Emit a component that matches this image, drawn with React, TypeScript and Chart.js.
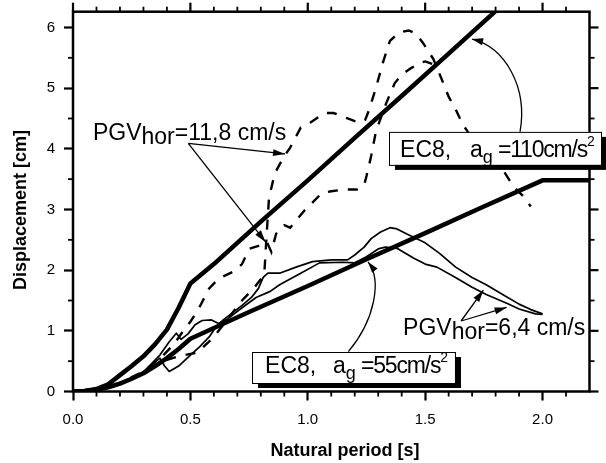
import { useEffect, useRef } from 'react';
import { Chart, registerables } from 'chart.js';

Chart.register(...registerables);

const FONT = "'Liberation Sans', Arial, Helvetica, sans-serif";

// EC8 elastic displacement spectra [T in s, Sd in cm]
const ec8HighPeriod = [0, 0.05, 0.1, 0.15, 0.2, 0.25, 0.3, 0.35, 0.4, 0.45, 0.5, 0.6, 0.8, 1.0, 1.2, 1.4, 1.6, 1.8, 1.9];
const ec8HighDisp = [0, 0.01, 0.04, 0.12, 0.27, 0.42, 0.58, 0.78, 1.02, 1.38, 1.78, 2.1, 2.8, 3.48, 4.18, 4.87, 5.57, 6.27, 6.61];
const ec8LowPeriod = [0, 0.05, 0.1, 0.15, 0.2, 0.25, 0.3, 0.35, 0.4, 0.45, 0.5, 0.75, 1.0, 1.25, 1.5, 1.75, 2.0, 2.2];
const ec8LowDisp = [0, 0.01, 0.03, 0.07, 0.13, 0.21, 0.3, 0.42, 0.55, 0.7, 0.87, 1.31, 1.74, 2.18, 2.61, 3.05, 3.48, 3.48];

// Record spectra, PGV_hor = 11,8 cm/s (two horizontal components, dashed)
const pgv118aPeriod = [0, 0.1, 0.2, 0.3, 0.38, 0.43, 0.47, 0.5, 0.535, 0.58, 0.62, 0.68, 0.72, 0.75, 0.79, 0.825, 0.845, 0.865, 0.9, 0.925, 0.985, 1.06, 1.1, 1.16, 1.21, 1.24, 1.25, 1.27, 1.29, 1.31, 1.335, 1.37, 1.4, 1.44, 1.48, 1.5, 1.53];
const pgv118aDisp = [0, 0.03, 0.14, 0.33, 0.58, 0.78, 1.0, 1.15, 1.36, 1.7, 1.86, 1.97, 2.1, 2.35, 2.4, 2.47, 2.3, 2.6, 2.74, 2.7, 2.98, 3.27, 3.3, 3.33, 3.33, 3.4, 3.55, 3.88, 4.28, 4.5, 4.76, 5.08, 5.22, 5.33, 5.42, 5.44, 5.4];
const pgv118bPeriod = [0, 0.1, 0.2, 0.3, 0.4, 0.45, 0.5, 0.53, 0.6, 0.67, 0.72, 0.77, 0.8, 0.815, 0.825, 0.835, 0.86, 0.9, 0.925, 0.97, 1.01, 1.07, 1.11, 1.17, 1.22, 1.245, 1.262, 1.29, 1.32, 1.35, 1.39, 1.43, 1.46, 1.49, 1.535, 1.57, 1.6, 1.63, 1.66, 1.68, 1.75, 1.83, 1.876, 1.92, 1.95];
const pgv118bDisp = [0, 0.02, 0.12, 0.3, 0.52, 0.58, 0.62, 0.64, 0.9, 1.25, 1.5, 1.7, 1.85, 1.95, 2.6, 3.2, 3.6, 3.88, 4.02, 4.35, 4.43, 4.59, 4.59, 4.5, 4.43, 4.48, 4.65, 5.0, 5.42, 5.78, 5.92, 5.95, 5.9, 5.75, 5.48, 5.15, 4.86, 4.65, 4.4, 4.29, 3.98, 3.66, 3.38, 3.21, 3.05];

// Record spectra, PGV_hor = 6,4 cm/s (two horizontal components, thin solid)
const pgv64aPeriod = [0, 0.1, 0.2, 0.28, 0.34, 0.37, 0.39, 0.41, 0.45, 0.5, 0.54, 0.58, 0.61, 0.64, 0.68, 0.72, 0.76, 0.79, 0.81, 0.83, 0.88, 0.95, 1.02, 1.1, 1.17, 1.2, 1.24, 1.27, 1.31, 1.35, 1.38, 1.42, 1.5, 1.56, 1.63, 1.7, 1.76, 1.83, 1.9, 1.95, 2.0];
const pgv64aDisp = [0, 0.02, 0.12, 0.27, 0.45, 0.55, 0.42, 0.33, 0.42, 0.6, 0.74, 0.9, 1.07, 1.18, 1.3, 1.42, 1.55, 1.7, 1.88, 1.95, 1.95, 2.05, 2.14, 2.17, 2.17, 2.25, 2.38, 2.52, 2.63, 2.7, 2.68, 2.6, 2.45, 2.28, 2.05, 1.88, 1.76, 1.6, 1.44, 1.35, 1.28];
const pgv64bPeriod = [0, 0.1, 0.2, 0.3, 0.37, 0.41, 0.44, 0.46, 0.49, 0.52, 0.55, 0.59, 0.62, 0.66, 0.72, 0.78, 0.84, 0.88, 0.97, 1.05, 1.15, 1.2, 1.25, 1.3, 1.33, 1.38, 1.45, 1.5, 1.55, 1.62, 1.7, 1.76, 1.85, 1.9, 1.97, 2.0];
const pgv64bDisp = [0, 0.02, 0.13, 0.32, 0.6, 0.82, 0.96, 0.86, 0.95, 1.1, 1.17, 1.18, 1.12, 1.2, 1.38, 1.55, 1.65, 1.76, 1.95, 2.12, 2.13, 2.12, 2.22, 2.35, 2.38, 2.36, 2.2, 2.1, 2.05, 1.9, 1.72, 1.6, 1.45, 1.36, 1.28, 1.27];

// Axis ticks
const xMajorTicks = [0, 0.5, 1.0, 1.5, 2.0];
const xTickLabels = ['0.0', '0.5', '1.0', '1.5', '2.0'];
const yMajorTicks = [0, 1, 2, 3, 4, 5, 6];
const yTickLabels = ['0', '1', '2', '3', '4', '5', '6'];
const X_MAX = 2.2;
const Y_MAX = 6.26;
const X_MINOR_STEP = 0.1;
const Y_MINOR_STEP = 0.5;
const MAJOR_TICK = 9;
const MINOR_TICK = 5;

const LABEL_SIZE = 23;

const toPoints = (xs: number[], ys: number[]) => xs.map((x, i) => ({ x, y: ys[i] }));

type Part = { t: string; dy?: number; size?: number; ls?: number };

function drawParts(ctx: CanvasRenderingContext2D, parts: Part[], x: number, y: number) {
  let cx = x;
  for (const p of parts) {
    ctx.font = `${p.size ?? LABEL_SIZE}px ${FONT}`;
    (ctx as any).letterSpacing = `${p.ls ?? 0}px`;
    ctx.fillText(p.t, cx, y + (p.dy ?? 0));
    cx += ctx.measureText(p.t).width;
  }
  (ctx as any).letterSpacing = '0px';
}

function arrowHead(ctx: CanvasRenderingContext2D, fx: number, fy: number, tx: number, ty: number, len = 12, half = 3.5) {
  const a = Math.atan2(ty - fy, tx - fx);
  const c = Math.cos(a), s = Math.sin(a);
  ctx.beginPath();
  ctx.moveTo(tx, ty);
  ctx.lineTo(tx - len * c + half * s, ty - len * s - half * c);
  ctx.lineTo(tx - len * c - half * s, ty - len * s + half * c);
  ctx.closePath();
  ctx.fill();
}

const overlay = {
  id: 'overlay',
  afterDatasetsDraw(chart: any) {
    const { ctx, chartArea: a, scales } = chart;
    const xs = scales.x, ys = scales.y;
    const px = (v: number) => xs.getPixelForValue(v);
    const py = (v: number) => ys.getPixelForValue(v);
    ctx.save();
    ctx.globalAlpha = 1;
    ctx.fillStyle = '#000000';
    ctx.strokeStyle = '#000000';
    ctx.setLineDash([]);

    // frame
    ctx.lineWidth = 2.5;
    ctx.strokeRect(a.left, a.top, a.right - a.left, a.bottom - a.top);

    // outward tick marks: minor ones on all sides, majors on top and right
    const nx = Math.round(X_MAX / X_MINOR_STEP);
    for (let k = 0; k < nx; k++) {
      const major = k % 5 === 0;
      const len = major ? MAJOR_TICK : MINOR_TICK;
      const w = major ? 2.2 : 1.8;
      const p = px(k * X_MINOR_STEP);
      if (!major) ctx.fillRect(p - w / 2, a.bottom, w, len);
      ctx.fillRect(p - w / 2, a.top - len, w, len);
    }
    const ny = Math.round(6 / Y_MINOR_STEP);
    for (let k = 0; k <= ny; k++) {
      const major = k % 2 === 0;
      const len = major ? MAJOR_TICK : MINOR_TICK;
      const w = major ? 2.2 : 1.8;
      const p = py(k * Y_MINOR_STEP);
      if (!major) ctx.fillRect(a.left - len, p - w / 2, len, w);
      ctx.fillRect(a.right, p - w / 2, len, w);
    }

    // axis titles
    ctx.font = `bold 18px ${FONT}`;
    ctx.textAlign = 'center';
    ctx.textBaseline = 'alphabetic';
    ctx.fillText('Natural period [s]', 345, 456);
    ctx.save();
    ctx.translate(26, 210);
    ctx.rotate(-Math.PI / 2);
    ctx.fillText('Displacement [cm]', 0, 0);
    ctx.restore();
    ctx.textAlign = 'left';

    // PGV 11,8 label and its arrows
    ctx.lineWidth = 1.3;
    const aO = [px(0.491), py(4.09)];
    const a1 = [px(0.903), py(3.916)];
    const a2 = [px(0.82), py(2.465)];
    ctx.beginPath();
    ctx.moveTo(aO[0], aO[1]); ctx.lineTo(a1[0], a1[1]);
    ctx.moveTo(aO[0], aO[1]); ctx.lineTo(a2[0], a2[1]);
    ctx.stroke();
    arrowHead(ctx, aO[0], aO[1], a1[0], a1[1]);
    arrowHead(ctx, aO[0], aO[1], a2[0], a2[1]);
    drawParts(ctx, [{ t: 'PGV' }, { t: 'hor', dy: 4 }, { t: '=11,8 cm/s' }], px(0.085), py(4.147));

    // PGV 6,4 label and its arrows
    const bO = [px(1.653), py(1.162)];
    const b1 = [px(1.748), py(1.67)];
    const b2 = [px(1.847), py(1.385)];
    ctx.beginPath();
    ctx.moveTo(bO[0], bO[1]); ctx.lineTo(b1[0], b1[1]);
    ctx.moveTo(bO[0], bO[1]); ctx.lineTo(b2[0], b2[1]);
    ctx.stroke();
    arrowHead(ctx, bO[0], bO[1], b1[0], b1[1]);
    arrowHead(ctx, bO[0], bO[1], b2[0], b2[1]);
    drawParts(ctx, [{ t: 'PGV' }, { t: 'hor', dy: 4 }, { t: '=6,4 cm/s' }], px(1.406), py(0.932));

    // curved arrows from the EC8 boxes to their spectra
    const curve = (p: number[][]) => {
      const q = p.map(([u, v]) => [px(u), py(v)]);
      ctx.beginPath();
      ctx.moveTo(q[0][0], q[0][1]);
      ctx.bezierCurveTo(q[1][0], q[1][1], q[2][0], q[2][1], q[3][0], q[3][1]);
      ctx.stroke();
      arrowHead(ctx, q[2][0], q[2][1], q[3][0], q[3][1], 11, 3.5);
    };
    ctx.lineWidth = 1.3;
    curve([[1.904, 4.279], [1.938, 5.017], [1.84, 5.676], [1.7, 5.808]]);
    curve([[1.173, 0.656], [1.2865, 1.179], [1.3163, 1.838], [1.257, 2.135]]);

    // EC8 boxes with drop shadow
    const box = (x0: number, x1: number, y0: number, y1: number) => {
      const l = px(x0), r = px(x1), t = py(y0), b = py(y1);
      ctx.fillStyle = '#000';
      ctx.fillRect(l + 6, t + 5, r - l, b - t);
      ctx.fillStyle = '#fff';
      ctx.fillRect(l, t, r - l, b - t);
      ctx.lineWidth = 1;
      ctx.strokeRect(l + 0.5, t + 0.5, r - l, b - t);
      ctx.fillStyle = '#000';
    };
    box(1.346, 2.249, 4.279, 3.735);
    drawParts(ctx, [{ t: 'EC8,' }], px(1.393), py(3.867));
    drawParts(ctx, [{ t: 'a' }, { t: 'g', dy: 6, size: 18 }, { t: ' =110cm/s', ls: -1.2 }, { t: '2', dy: -11, size: 14 }], px(1.691), py(3.867));

    box(0.7625, 1.627, 0.651, 0.14);
    drawParts(ctx, [{ t: 'EC8,' }], px(0.818), py(0.3));
    drawParts(ctx, [{ t: 'a' }, { t: 'g', dy: 6, size: 18 }, { t: ' =55cm/s', ls: -1.2 }, { t: '2', dy: -11, size: 14 }], px(1.1076), py(0.3));

    ctx.restore();
  },
};

// major ticks on the bottom and left axes come from the scales themselves
const axisGrid = {
  display: true,
  drawOnChartArea: false,
  drawTicks: true,
  tickLength: MAJOR_TICK,
  tickWidth: 2.2,
  tickColor: '#000',
  color: '#000',
};

export default function App() {
  const ref = useRef<HTMLCanvasElement>(null);

  useEffect(() => {
    const canvas = ref.current;
    if (!canvas) return;
    const thick = { borderColor: '#000', borderWidth: 4.5, pointRadius: 0, fill: false, borderJoinStyle: 'round' as const };
    const thin = { borderColor: '#000', borderWidth: 1.7, pointRadius: 0, fill: false, borderJoinStyle: 'round' as const };
    const dashed = { borderColor: '#000', borderWidth: 2.4, pointRadius: 0, fill: false, borderDash: [10, 10] };

    const chart = new Chart(canvas, {
      type: 'line',
      data: {
        datasets: [
          { label: 'PGV 6,4 a', data: toPoints(pgv64aPeriod, pgv64aDisp), ...thin },
          { label: 'PGV 6,4 b', data: toPoints(pgv64bPeriod, pgv64bDisp), ...thin },
          { label: 'PGV 11,8 a', data: toPoints(pgv118aPeriod, pgv118aDisp), ...dashed },
          { label: 'PGV 11,8 b', data: toPoints(pgv118bPeriod, pgv118bDisp), ...dashed },
          { label: 'EC8 110', data: toPoints(ec8HighPeriod, ec8HighDisp), ...thick },
          { label: 'EC8 55', data: toPoints(ec8LowPeriod, ec8LowDisp), ...thick },
        ],
      },
      options: {
        animation: false,
        responsive: false,
        devicePixelRatio: 1,
        layout: { padding: { top: 11.7, right: 16.5, left: 0, bottom: 0 } },
        plugins: { legend: { display: false }, tooltip: { enabled: false } },
        elements: { line: { tension: 0 } },
        scales: {
          x: {
            type: 'linear',
            min: 0,
            max: X_MAX,
            afterBuildTicks: (s: any) => { s.ticks = xMajorTicks.map((value) => ({ value })); },
            afterFit: (s: any) => {
              s.height = 71.5;
              s.paddingLeft = 0;
              s.paddingRight = 0;
            },
            grid: axisGrid,
            border: { display: false },
            ticks: {
              autoSkip: false,
              maxRotation: 0,
              padding: 19.5 - MAJOR_TICK,
              color: '#000',
              font: { family: FONT, size: 15 },
              callback: (_v: any, i: number) => xTickLabels[i],
            },
          },
          y: {
            type: 'linear',
            min: 0,
            max: Y_MAX,
            afterBuildTicks: (s: any) => { s.ticks = yMajorTicks.map((value) => ({ value })); },
            afterFit: (s: any) => {
              s.width = 73;
              s.paddingTop = 0;
              s.paddingBottom = 0;
            },
            grid: axisGrid,
            border: { display: false },
            ticks: {
              autoSkip: false,
              padding: 18 - MAJOR_TICK,
              color: '#000',
              font: { family: FONT, size: 15 },
              callback: (_v: any, i: number) => yTickLabels[i],
            },
          },
        },
      },
      plugins: [overlay],
    });
    return () => chart.destroy();
  }, []);

  return (
    <div style={{ position: 'absolute', left: 0, top: 0, width: 606, height: 463, background: '#fff' }}>
      <canvas ref={ref} width={606} height={463} style={{ display: 'block' }} />
    </div>
  );
}
